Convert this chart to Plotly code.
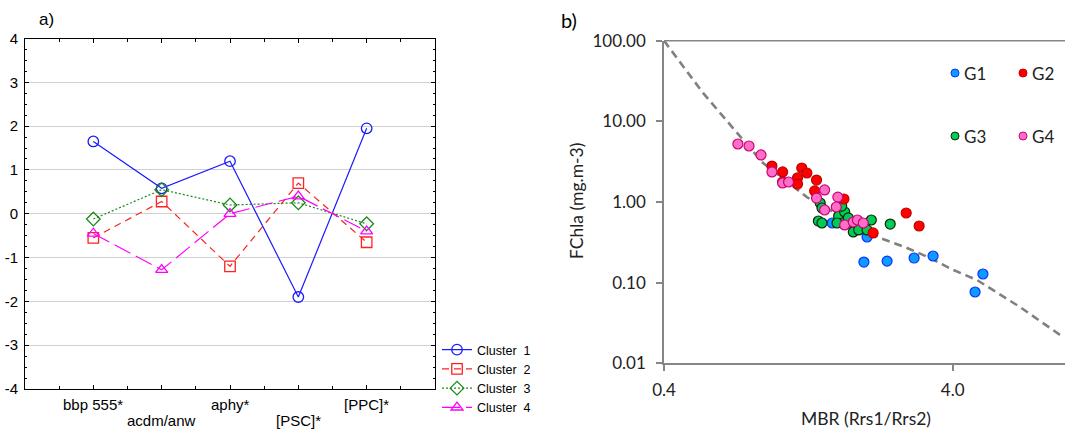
import plotly.graph_objects as go

# ---------------- Panel a data ----------------
categories = ["bbp 555*", "acdm/anw", "aphy*", "[PSC]*", "[PPC]*"]
cluster1 = [1.65, 0.58, 1.20, -1.90, 1.95]
cluster2 = [-0.55, 0.28, -1.20, 0.70, -0.65]
cluster3 = [-0.12, 0.55, 0.20, 0.25, -0.23]
cluster4 = [-0.45, -1.28, 0.00, 0.40, -0.40]
y_ticks_a = [-4, -3, -2, -1, 0, 1, 2, 3, 4]
y_ticktext_a = ["-4", "-3", "-2", "-1", "0", "1", "2", "3", "4"]

# ---------------- Panel b data ----------------
g1_x = [1.53, 2.02, 1.97, 2.37, 2.94, 3.42, 5.09, 4.78]
g1_y = [0.549, 0.368, 0.180, 0.185, 0.202, 0.214, 0.128, 0.0766]

g2_x = [0.946, 1.03, 1.03, 1.16, 1.16, 1.20, 1.25, 1.35, 1.33, 1.68, 2.12, 2.76, 3.06]
g2_y = [2.79, 2.36, 1.77, 1.99, 1.67, 2.64, 2.29, 1.87, 1.37, 1.09, 0.413, 0.731, 0.504]

g3_x = [1.37, 1.41, 1.39, 1.41, 1.61, 1.69, 1.66, 1.59, 1.76, 1.81, 1.89, 2.02, 2.09, 2.43, 1.65, 1.74]
g3_y = [0.581, 0.549, 0.972, 0.843, 0.670, 0.752, 0.549, 0.549, 0.549, 0.425, 0.450, 0.450, 0.598, 0.533, 0.891, 0.634]

g4_x = [0.721, 0.788, 0.867, 0.946, 1.03, 1.08, 1.44, 1.35, 1.44, 1.60, 1.58, 1.69, 1.81, 1.87, 1.96]
g4_y = [5.24, 4.95, 3.83, 2.36, 1.72, 1.77, 1.41, 1.12, 0.796, 1.15, 0.867, 0.519, 0.565, 0.598, 0.549]

curve_x = [0.40, 0.546, 0.752, 0.881, 1.25, 2.24, 2.78, 3.34, 4.01, 4.85, 6.84, 9.64]
curve_y = [100.0, 22.5, 5.87, 3.05, 1.15, 0.358, 0.269, 0.202, 0.144, 0.108, 0.0499, 0.0212]

y_ticks_b = [0.01, 0.1, 1, 10, 100]
y_ticktext_b = ["0.01", "0.10", "1.00", "10.00", "100.00"]
x_ticks_b = [0.4, 4.0]
x_ticktext_b = ["0.4", "4.0"]

W, H = 1065, 430
def px(x):
    return x / W
def py(y):
    return (H - y) / H

FA = "Liberation Sans, Arial, sans-serif"
FB = "Lato, Noto Sans, sans-serif"

fig = go.Figure()
xi = list(range(len(categories)))

series = [
    ("Cluster\u00a0 1", cluster1, "#1a1aff", "solid", "circle-open"),
    ("Cluster\u00a0 2", cluster2, "#ff2020", "7px,5px", "square-open"),
    ("Cluster\u00a0 3", cluster3, "#1a8a1a", "2px,2px", "diamond-open"),
    ("Cluster\u00a0 4", cluster4, "#ff00ff", "18px,6px", "triangle-up-open"),
]
for name, vals, col, dash, sym in series:
    fig.add_trace(go.Scatter(
        x=xi, y=vals, name=name, mode="lines+markers",
        line=dict(color=col, width=1.2, dash=dash),
        marker=dict(symbol=sym, size=10.5, color=col, line=dict(width=1.3, color=col)),
        xaxis="x", yaxis="y", showlegend=True,
    ))

# panel b
fig.add_trace(go.Scatter(x=curve_x, y=curve_y, mode="lines",
                         line=dict(color="#808080", width=2.6, dash="8px,5px"),
                         xaxis="x2", yaxis="y2", showlegend=False, hoverinfo="skip"))
groups = [
    ("G1", g1_x, g1_y, "#0a9cff", "#1030ff"),
    ("G3", g3_x, g3_y, "#00cc55", "#0a2a0a"),
    ("G2", g2_x, g2_y, "#ff0000", "#c00000"),
    ("G4", g4_x, g4_y, "#ff6ec7", "#cc0077"),
]
for name, gx, gy, fill, edge in groups:
    fig.add_trace(go.Scatter(x=gx, y=gy, mode="markers", name=name,
                             marker=dict(size=10, color=fill, line=dict(width=1.2, color=edge)),
                             xaxis="x2", yaxis="y2", showlegend=False))

ax_a_x0, ax_a_x1 = 25, 435
ax_a_y0, ax_a_y1 = 38.5, 389
ax_b_x0 = 664
ax_b_y0, ax_b_y1 = 40.7, 363.3

fig.update_layout(
    width=W, height=H,
    margin=dict(l=0, r=0, t=0, b=0, autoexpand=False),
    paper_bgcolor="white", plot_bgcolor="white",
    font=dict(family=FA, size=14, color="black"),
    xaxis=dict(domain=[px(ax_a_x0), px(ax_a_x1)], range=[-1, 5], automargin=False,
               tickmode="array", tickvals=xi, showticklabels=False,
               ticks="inside", ticklen=4, tickcolor="black",
               minor=dict(dtick=0.5, tick0=0, ticks="inside", ticklen=3, tickcolor="black"),
               showline=True, linecolor="black", linewidth=1, mirror="ticks",
               showgrid=False, zeroline=False),
    yaxis=dict(domain=[py(ax_a_y1), py(ax_a_y0)], range=[-4, 4], automargin=False,
               tickmode="array", tickvals=y_ticks_a, ticktext=y_ticktext_a,
               tickfont=dict(size=15, family=FA), ticks="inside", ticklen=4, tickcolor="black",
               ticklabelstandoff=3,
               minor=dict(dtick=0.25, ticks="inside", ticklen=2, tickcolor="black"),
               showline=True, linecolor="black", linewidth=1, mirror="ticks",
               showgrid=True, gridcolor="#d0d0d0", gridwidth=1, zeroline=False),
    xaxis2=dict(domain=[px(ax_b_x0), 1.0], type="log", range=[-0.398, 0.991], automargin=False,
                tickmode="array", tickvals=x_ticks_b, ticktext=x_ticktext_b,
                tickfont=dict(family=FB, size=17, color="#222"),
                ticks="outside", ticklen=6, tickcolor="#868686", tickwidth=1.5,
                ticklabelstandoff=4,
                showline=True, linecolor="#868686", linewidth=1.6,
                showgrid=False, zeroline=False, anchor="y2"),
    yaxis2=dict(domain=[py(ax_b_y1), py(ax_b_y0)], type="log", range=[-2, 2], automargin=False,
                tickmode="array", tickvals=y_ticks_b, ticktext=y_ticktext_b,
                tickfont=dict(family=FB, size=17, color="#222"),
                ticks="outside", ticklen=6, tickcolor="#868686", tickwidth=1.5,
                ticklabelstandoff=7,
                showline=True, linecolor="#868686", linewidth=1.6,
                showgrid=False, zeroline=False, anchor="x2"),
    legend=dict(x=px(437), y=py(335), xanchor="left", yanchor="top",
                font=dict(family=FA, size=12.5), bgcolor="rgba(0,0,0,0)",
                itemwidth=30, tracegroupgap=0),
    showlegend=True,
)

annotations = []
# panel a x labels (staggered)
for i, c in enumerate(categories):
    yy = py(404) if i % 2 == 0 else py(420)
    annotations.append(dict(x=i, y=yy, xref="x", yref="paper", text=c, showarrow=False,
                            font=dict(family=FA, size=15), xanchor="center", yanchor="middle"))
annotations.append(dict(x=px(37), y=py(19), xref="paper", yref="paper", text="a)", showarrow=False,
                        font=dict(family=FA, size=17), xanchor="left", yanchor="middle"))
annotations.append(dict(x=px(559), y=py(20), xref="paper", yref="paper", text="b)", showarrow=False,
                        font=dict(family=FB, size=20), xanchor="left", yanchor="middle"))
annotations.append(dict(x=px(576), y=py(201), xref="paper", yref="paper", text="FChla (mg.m-3)",
                        showarrow=False, textangle=-90,
                        font=dict(family=FB, size=17.5, color="#222"), xanchor="center", yanchor="middle"))
annotations.append(dict(x=px(866), y=py(418), xref="paper", yref="paper", text="MBR (Rrs1/Rrs2)",
                        showarrow=False, font=dict(family=FB, size=17.5, color="#222"),
                        xanchor="center", yanchor="middle"))

shapes = [dict(type="line", xref="paper", yref="y2 domain", x0=px(ax_b_x0), x1=1.0, y0=1, y1=1,
               line=dict(color="#868686", width=1.6))]

# panel b legend
leg = [("G1", 955, 73, "#0a9cff", "#1030ff"), ("G2", 1023, 73, "#ff0000", "#c00000"),
       ("G3", 955, 136, "#00cc55", "#0a2a0a"), ("G4", 1023, 136, "#ff6ec7", "#cc0077")]
for name, lx, ly, fill, edge in leg:
    shapes.append(dict(type="circle", xref="paper", yref="paper", xsizemode="pixel", ysizemode="pixel",
                       xanchor=px(lx), yanchor=py(ly), x0=-4, x1=4, y0=-4, y1=4,
                       fillcolor=fill, line=dict(color=edge, width=1)))
    annotations.append(dict(x=px(lx + 7), y=py(ly), xref="paper", yref="paper", text=name,
                            showarrow=False, font=dict(family=FB, size=17, color="#222"),
                            xanchor="left", yanchor="middle"))

fig.update_layout(annotations=annotations, shapes=shapes)
fig.write_html("out.html", config={"displayModeBar": False},
               post_script="document.body.style.margin='0px';")
